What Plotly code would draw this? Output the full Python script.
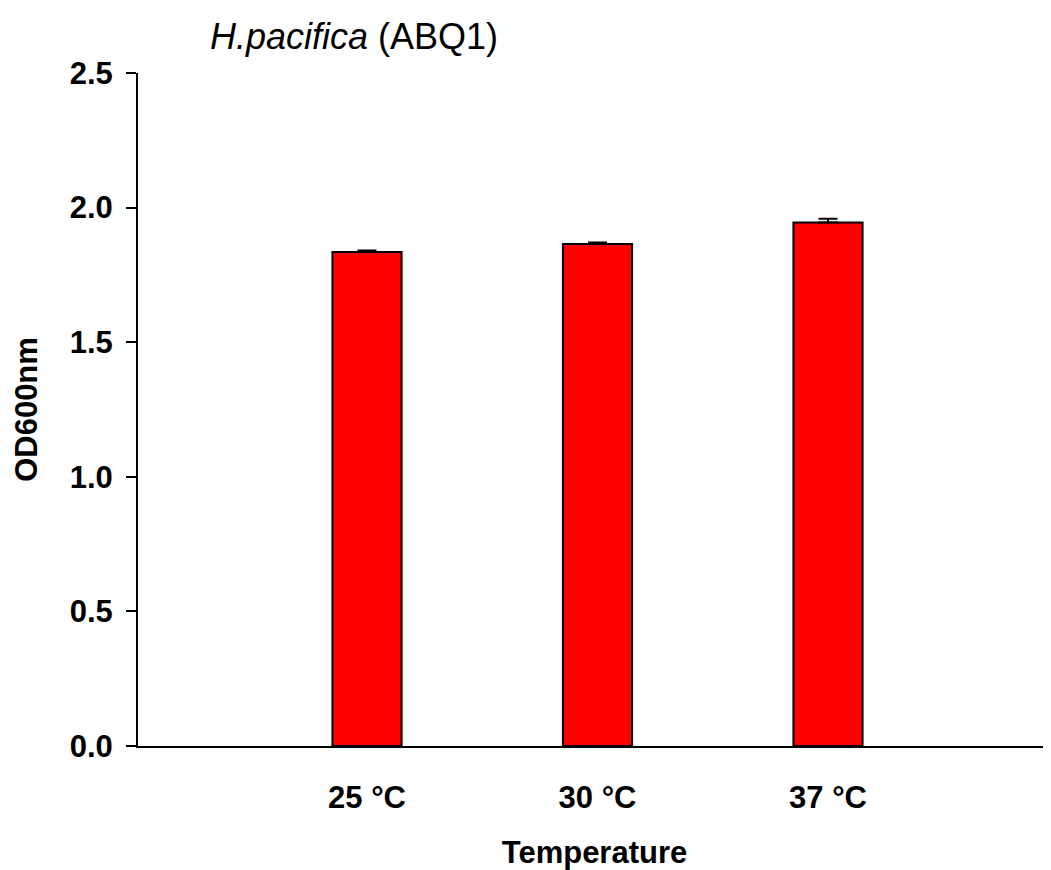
import plotly.graph_objects as go

categories = ["25 °C", "30 °C", "37 °C"]
od600 = [1.835, 1.865, 1.945]
od600_err = [0.006, 0.005, 0.014]
y_ticks = [0.0, 0.5, 1.0, 1.5, 2.0, 2.5]
y_tick_labels = ["0.0", "0.5", "1.0", "1.5", "2.0", "2.5"]

FONT = "Liberation Sans, Arial, sans-serif"

# page body has an 8px default margin; compensate
W, H = 1043, 862
L, T, B, R = 130, 65, 124, 0
PW = W - L - R
PH = H - T - B

fig = go.Figure()
fig.add_trace(go.Bar(
    x=list(range(len(categories))),
    y=od600,
    width=0.3,
    marker=dict(color="#FF0000", line=dict(color="black", width=2)),
    error_y=dict(type="data", symmetric=False, array=od600_err,
                 arrayminus=[0] * len(od600_err),
                 color="black", thickness=2, width=9.5),
))

fig.update_layout(
    width=W, height=H,
    margin=dict(l=L, r=R, t=T, b=B),
    paper_bgcolor="white", plot_bgcolor="white",
    showlegend=False,
    font=dict(family=FONT, color="black"),
    xaxis=dict(
        range=[-0.9935, -0.9935 + PW / 230.5],
        tickvals=list(range(len(categories))),
        ticktext=categories,
        tickfont=dict(family=FONT, size=31, color="black", weight="bold"),
        ticks="",
        ticklabelstandoff=23,
        showline=True, linecolor="black", linewidth=2,
        showgrid=False, zeroline=False,
        title=dict(text="<b>Temperature</b>", font=dict(family=FONT, size=31, color="black"),
                   standoff=34),
    ),
    yaxis=dict(
        range=[0, 2.5],
        tickvals=y_ticks,
        ticktext=y_tick_labels,
        tickfont=dict(family=FONT, size=31, color="black", weight="bold"),
        ticks="outside", ticklen=10, tickwidth=2, tickcolor="black",
        ticklabelstandoff=7,
        showline=True, linecolor="black", linewidth=2,
        showgrid=False, zeroline=False,
        title=dict(text="<b>OD600nm</b>", font=dict(family=FONT, size=31, color="black"),
                   standoff=23),
    ),
)

fig.add_annotation(
    text="<i>H.pacifica</i> (ABQ1)",
    xref="paper", yref="paper",
    x=(200 - L) / PW, y=1 + (T - 29) / PH,
    xanchor="left", yanchor="middle",
    showarrow=False,
    font=dict(family=FONT, size=36, color="black"),
)

fig.write_html("out.html")
